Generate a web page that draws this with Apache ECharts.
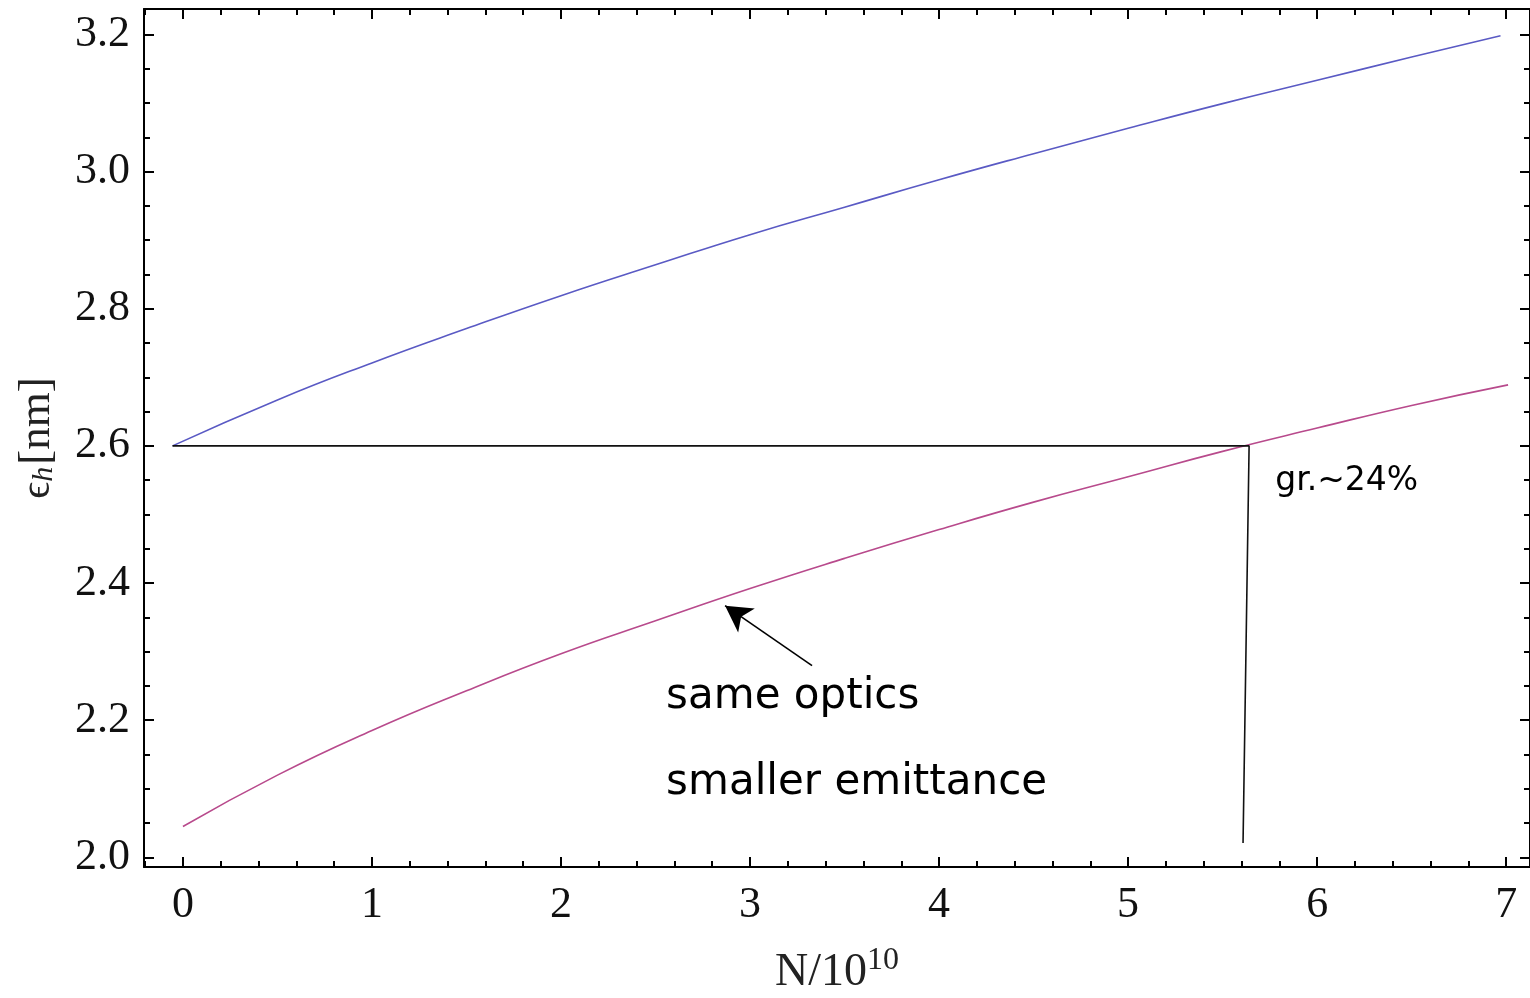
<!DOCTYPE html>
<html>
<head>
<meta charset="utf-8">
<script src="https://cdn.jsdelivr.net/npm/echarts@6/dist/echarts.min.js"></script>
<style>html,body{margin:0;padding:0;background:#fff}#c{width:1530px;height:998px}</style>
</head>
<body>
<div id="c"></div>
<script>
// ---- data ----
const blueN   = [-0.055, 0.5, 1, 1.5, 2, 2.5, 3, 3.5, 4, 4.5, 5, 5.5, 6, 6.5, 6.97];
const blueEps = [2.600, 2.667, 2.721, 2.771, 2.819, 2.864, 2.908, 2.948, 2.988, 3.026, 3.063, 3.099, 3.133, 3.167, 3.198];
const pinkN   = [0, 0.5, 1, 1.5, 2, 2.5, 3, 3.5, 4, 4.5, 5, 5.5, 6, 6.5, 7.01];
const pinkEps = [2.045, 2.120, 2.185, 2.243, 2.297, 2.345, 2.392, 2.436, 2.478, 2.518, 2.555, 2.592, 2.626, 2.659, 2.689];
const refN    = [-0.055, 5.640, 5.608];
const refEps  = [2.6, 2.6, 2.021];
const arrowFrom = [3.328, 2.2795];
const arrowTo   = [2.868, 2.367];
const notes = [
  {text: 'gr.~24%', n: 5.778, eps: 2.548, size: 'small'},
  {text: 'same optics', n: 2.556, eps: 2.234, size: 'big'},
  {text: 'smaller emittance', n: 2.556, eps: 2.109, size: 'big'}
];
const xMajor = [0, 1, 2, 3, 4, 5, 6, 7];
const xMinor = [-0.2, 0.2, 0.4, 0.6, 0.8, 1.2, 1.4, 1.6, 1.8, 2.2, 2.4, 2.6, 2.8, 3.2, 3.4, 3.6, 3.8, 4.2, 4.4, 4.6, 4.8, 5.2, 5.4, 5.6, 5.8, 6.2, 6.4, 6.6, 6.8];
const yMajor = [2.0, 2.2, 2.4, 2.6, 2.8, 3.0, 3.2];
const yMinor = [2.05, 2.1, 2.15, 2.25, 2.3, 2.35, 2.45, 2.5, 2.55, 2.65, 2.7, 2.75, 2.85, 2.9, 2.95, 3.05, 3.1, 3.15];
const X_MIN = -0.206, X_MAX = 7.126, Y_MIN = 1.986, Y_MAX = 3.237;

const zip = (a, b) => a.map((v, i) => [v, b[i]]);
const serif = 'Liberation Serif';
const lineStyle = {color: '#000', width: 2};

function xAx(pos, ticks, len, labels, showLine) {
  return {
    type: 'value', position: pos, min: X_MIN, max: X_MAX,
    axisLine: {show: showLine, onZero: false, lineStyle},
    axisTick: {show: true, inside: true, length: len, customValues: ticks, lineStyle: {color: '#000', width: 2}},
    axisLabel: labels ? {show: true, customValues: xMajor, margin: 16, fontFamily: serif, fontSize: 44, color: '#111'} : {show: false},
    splitLine: {show: false},
    name: labels ? '{a|N/10}{s|10}' : '',
    nameLocation: 'middle', nameGap: 78,
    nameTextStyle: {rich: {
      a: {fontFamily: serif, fontSize: 46, color: '#222'},
      s: {fontFamily: serif, fontSize: 32, color: '#222', verticalAlign: 'top', padding: [0, 0, 24, 0]}
    }}
  };
}
function yAx(pos, ticks, len, labels, showLine) {
  return {
    type: 'value', position: pos, min: Y_MIN, max: Y_MAX,
    axisLine: {show: showLine, onZero: false, lineStyle},
    axisTick: {show: true, inside: true, length: len, customValues: ticks, lineStyle: {color: '#000', width: 2}},
    axisLabel: labels ? {show: true, customValues: yMajor, margin: 14, fontFamily: serif, fontSize: 44, color: '#111', formatter: v => v.toFixed(1)} : {show: false},
    splitLine: {show: false},
    name: labels ? '{e|ϵ}{h|h}{b|[nm]}' : '',
    nameLocation: 'middle', nameGap: 84,
    nameTextStyle: {rich: {
      e: {fontFamily: serif, fontSize: 42, color: '#222'},
      h: {fontFamily: serif, fontSize: 30, fontStyle: 'italic', color: '#222', padding: [14, 2, 0, 0]},
      b: {fontFamily: serif, fontSize: 45, color: '#222'}
    }}
  };
}

const chart = echarts.init(document.getElementById('c'), null, {renderer: 'canvas'});
chart.setOption({
  animation: false,
  backgroundColor: '#fff',
  grid: {left: 144, top: 9, right: 0, bottom: 131, containLabel: false, outerBoundsMode: 'none'},
  xAxis: [
    xAx('bottom', xMajor, 10, true, true),
    xAx('bottom', xMinor, 6, false, false),
    xAx('top', xMajor, 10, false, true),
    xAx('top', xMinor, 6, false, false)
  ],
  yAxis: [
    yAx('left', yMajor, 10, true, true),
    yAx('left', yMinor, 6, false, false),
    yAx('right', yMajor, 10, false, true),
    yAx('right', yMinor, 6, false, false)
  ],
  series: [
    {type: 'line', data: zip(blueN, blueEps), smooth: true, showSymbol: false, lineStyle: {color: '#5a5ac4', width: 1.6}},
    {type: 'line', data: zip(pinkN, pinkEps), smooth: true, showSymbol: false, lineStyle: {color: '#b84a8c', width: 1.6}},
    {type: 'line', data: zip(refN, refEps), showSymbol: false, lineStyle: {color: '#111', width: 1.6},
     markLine: {
       silent: true, symbol: ['none', 'arrow'], symbolSize: [22, 26], label: {show: false},
       lineStyle: {color: '#000', width: 1.6, type: 'solid'},
       data: [[{coord: arrowFrom}, {coord: arrowTo}]]
     }},
    {type: 'scatter', symbolSize: 0, silent: true, emphasis: {disabled: true},
     itemStyle: {color: '#000', opacity: 1},
     data: notes.map(d => ({name: d.text, value: [d.n, d.eps], size: d.size})),
     label: {show: true, position: 'right', distance: 0, color: '#000', opacity: 1, textBorderWidth: 0,
       formatter: p => '{' + p.data.size + '|' + p.name + '}',
       rich: {small: {fontSize: 33, fontFamily: 'DejaVu Sans', color: '#000'}, big: {fontSize: 42, fontFamily: 'DejaVu Sans', color: '#000'}}}}
  ]
});
</script>
</body>
</html>
